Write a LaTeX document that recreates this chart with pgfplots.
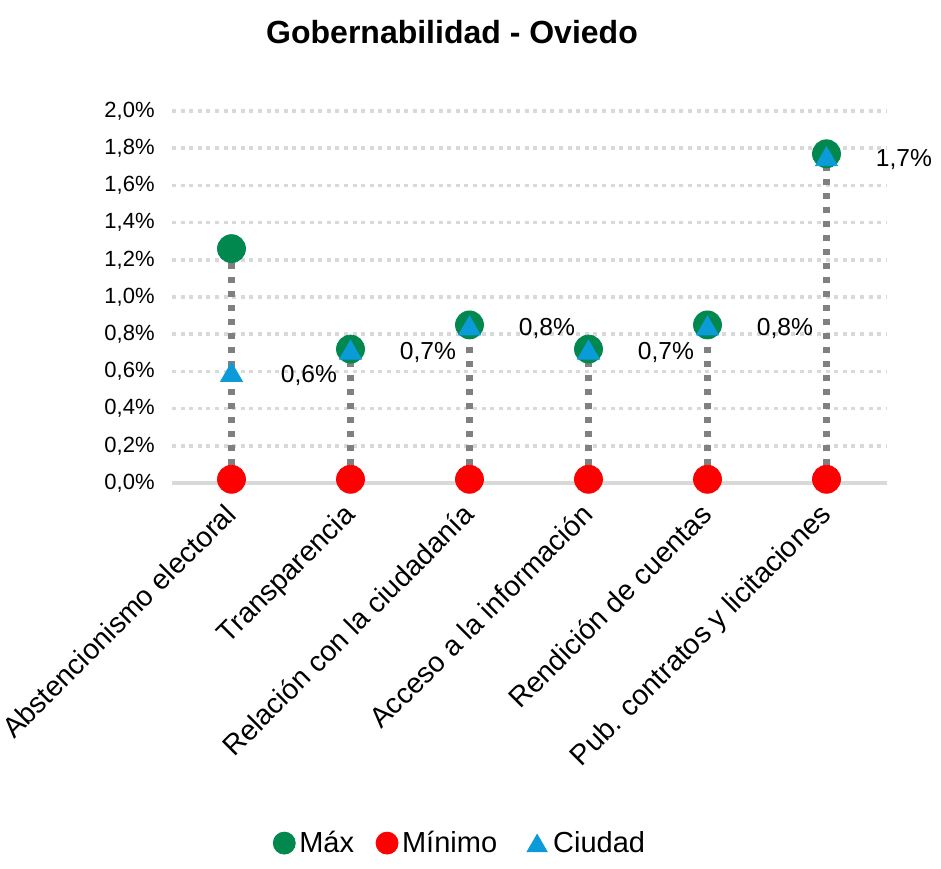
\documentclass[border=0pt]{standalone}
\usepackage{pgfplots}
\pgfplotsset{compat=1.18}
\usepackage{fontspec}
\setmainfont{Liberation Sans}
\definecolor{cmax}{HTML}{00884F}
\definecolor{cmin}{HTML}{FF0000}
\definecolor{cciu}{HTML}{0A9BD8}
\definecolor{cgrid}{HTML}{D9D9D9}
\definecolor{cline}{HTML}{808080}
\begin{document}
\begin{tikzpicture}
\path[use as bounding box] (0,0) rectangle (470.5pt,434pt);
\node[font=\bfseries\fontsize{16}{19}\selectfont] at (226pt,418pt) {Gobernabilidad - Oviedo};
\begin{axis}[
  at={(86pt,192.5pt)}, anchor=south west,
  scale only axis, width=357pt, height=186pt,
  xmin=-0.5, xmax=5.5, ymin=0, ymax=2,
  clip=false,
  axis line style={draw=none},
  major tick length=0pt,
  xtick={0,1,2,3,4,5},
  xticklabels={Abstencionismo electoral, Transparencia, Relación con la ciudadanía, Acceso a la información, Rendición de cuentas, Pub. contratos y licitaciones},
  xticklabel style={rotate=45, anchor=north east, inner sep=0pt, xshift=-9.5pt, yshift=-3.5pt, font=\fontsize{14.2}{17}\selectfont},
  ytick={0,0.2,0.4,0.6,0.8,1,1.2,1.4,1.6,1.8,2},
  yticklabels={{0,0\%},{0,2\%},{0,4\%},{0,6\%},{0,8\%},{1,0\%},{1,2\%},{1,4\%},{1,6\%},{1,8\%},{2,0\%}},
  yticklabel style={anchor=east, inner sep=0pt, xshift=-8.5pt, font=\fontsize{11}{13}\selectfont},
  ymajorgrids,
  major grid style={cgrid, line width=1.8pt, dash pattern=on 2pt off 2.3pt},
  legend style={at={(0.405,-0.968)}, anchor=center, draw=none, legend columns=3,
    font=\fontsize{14.5}{17}\selectfont, inner sep=0pt,
    /tikz/every even column/.append style={column sep=9pt}},
  legend cell align=left,
]
\draw[cgrid, line width=2.2pt] (axis cs:-0.5,0) -- (axis cs:5.5,0);
\addplot[cline, line width=3.4pt, dash pattern=on 3.3pt off 3.7pt, unbounded coords=jump, forget plot]
  coordinates {(0,0.02) (0,1.26) (0,nan) (1,0.02) (1,0.72) (1,nan) (2,0.02) (2,0.85) (2,nan)
               (3,0.02) (3,0.72) (3,nan) (4,0.02) (4,0.85) (4,nan) (5,0.02) (5,1.77)};
\addplot[only marks, mark=*, mark size=7pt, mark options={draw=cmax, fill=cmax},
  legend image code/.code={\draw[mark=*, mark size=5.5pt, draw=cmax, fill=cmax] plot coordinates {(0.15cm,0cm)};}]
  coordinates {(0,1.26) (1,0.72) (2,0.85) (3,0.72) (4,0.85) (5,1.77)};
\addlegendentry{Máx}
\addplot[only marks, mark=*, mark size=7pt, mark options={draw=cmin, fill=cmin},
  legend image code/.code={\draw[mark=*, mark size=5.5pt, draw=cmin, fill=cmin] plot coordinates {(0.15cm,0cm)};}]
  coordinates {(0,0.02) (1,0.02) (2,0.02) (3,0.02) (4,0.02) (5,0.02)};
\addlegendentry{Mínimo}
\addplot[only marks, mark=triangle*, mark size=6.3pt, mark options={draw=cciu, fill=cciu},
  legend image code/.code={\path[draw=none, fill=none] (0.2cm-9pt,0cm) rectangle (0.2cm+6pt,0.01cm); \draw[mark=triangle*, mark size=5.8pt, draw=cciu, fill=cciu] plot coordinates {(0.2cm,-0.05cm)};},
  point meta=explicit symbolic, nodes near coords,
  every node near coord/.append style={anchor=west, xshift=24.5pt, inner sep=0pt, text=black, font=\fontsize{12.3}{14}\selectfont}]
  coordinates {(0,0.58) [0,6\%] (1,0.70) [0,7\%] (2,0.83) [0,8\%] (3,0.70) [0,7\%] (4,0.83) [0,8\%] (5,1.74) [1,7\%]};
\addlegendentry{Ciudad}
\end{axis}
\end{tikzpicture}
\end{document}
